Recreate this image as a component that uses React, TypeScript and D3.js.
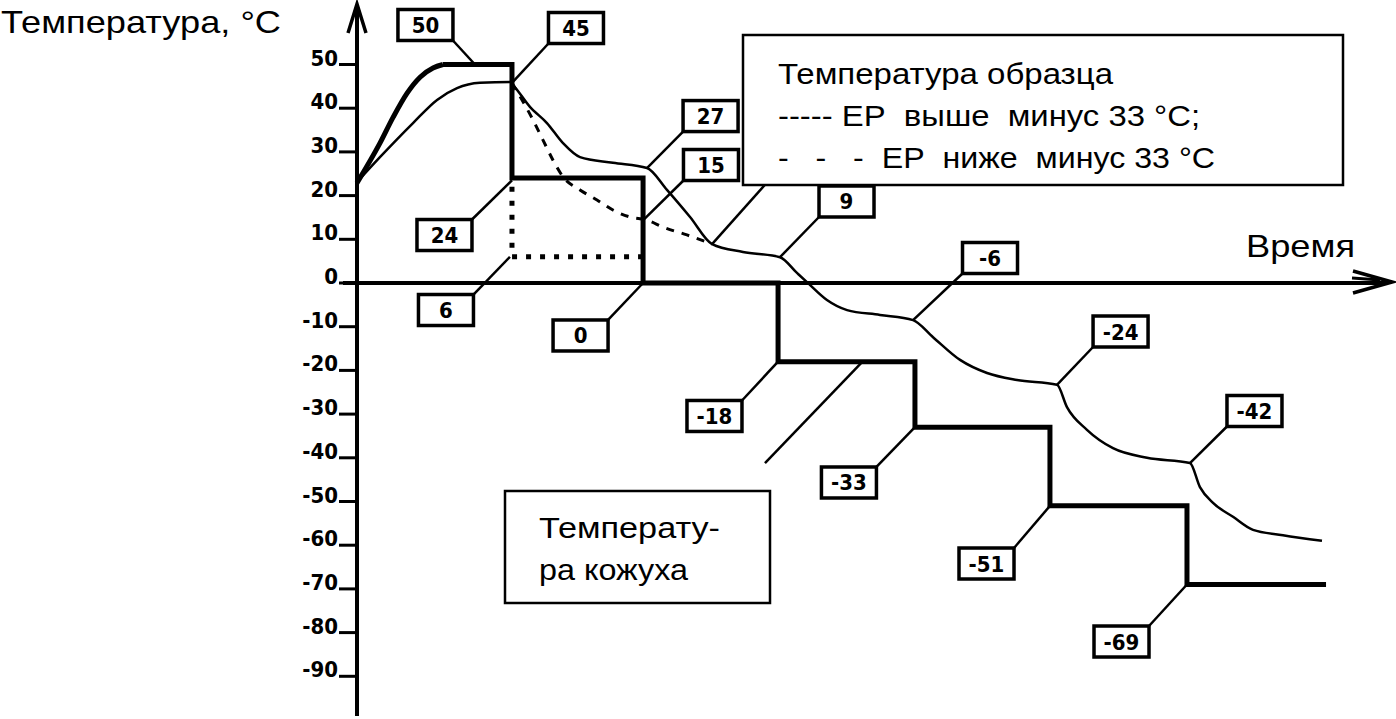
import React from 'react';
import * as d3 from 'd3';

// ---- axis ticks ----
const yTicks = [50, 40, 30, 20, 10, 0, -10, -20, -30, -40, -50, -60, -70, -80, -90];

// ---- jacket temperature (thick line) ----
const jacketRampTime = [0, 1.7, 2.67, 3.7, 4.67, 5.63, 6.37];
const jacketRampTemp = [22.9, 32.0, 37.9, 43.4, 47.1, 49.2, 50];
const jacketStepTime = [6.37, 11.48, 11.48, 21.19, 21.19, 31.19, 31.19, 41.33, 41.33, 51.33, 51.33, 61.48, 61.48, 71.78];
const jacketStepTemp = [50, 50, 24, 24, 0, 0, -18, -18, -33, -33, -51, -51, -69, -69];

// ---- dotted alternative jacket line ----
const dottedTime = [11.48, 11.48, 21.19];
const dottedTemp = [22, 6, 6];

// ---- sample temperature, EP above -33 (thin line) ----
const sampleAboveTime = [0, 1.7, 4.15, 5.93, 7.41, 9.11, 11.33, 11.56, 12.81, 14.07, 15.26, 16.52, 18.96, 21.48,
  22.96, 24.67, 26.3, 28.59, 31.33, 32.59, 33.33, 34.81, 36.3, 38.74, 41.19, 42.67, 44.67, 46.67, 48.89, 51.85,
  52.59, 54.07, 56.0, 58.52, 61.7, 62.44, 63.41, 64.89, 66.37, 68.59, 71.48];
const sampleAboveTemp = [23.1, 28.8, 36.6, 41.9, 44.6, 45.8, 46.0, 45.3, 40.3, 36.6, 32.0, 28.8, 27.5, 26.3,
  21.3, 15.1, 8.9, 7.1, 5.9, 2.3, 0.2, -3.9, -6.2, -7.3, -8.5, -12.4, -17.6, -20.6, -22.2, -23.3,
  -28.4, -33.6, -37.8, -40.0, -41.2, -46.7, -50.3, -53.5, -56.5, -57.7, -59.0];

// ---- sample temperature, EP below -33 (dashed line) ----
const sampleBelowTime = [11.48, 13.04, 13.78, 14.52, 15.26, 16.52, 17.78, 18.96, 20.22, 21.48, 22.67, 24.44, 26.3];
const sampleBelowTemp = [45.8, 37.3, 32.7, 28.1, 24.3, 21.3, 19.0, 16.7, 15.1, 14.4, 12.8, 11.0, 8.9];

// ---- value call-outs ----
const annLabels = ['50', '45', '27', '15', '9', '24', '6', '0', '-18', '-33', '-6', '-24', '-42', '-51', '-69'];
const annAnchorT = [8.74, 11.48, 21.48, 21.2, 31.33, 11.48, 11.33, 21.19, 31.19, 41.33, 41.19, 51.85, 61.7, 51.33, 61.48];
const annAnchorV = [50, 45.8, 26.3, 14.4, 5.9, 23.5, 6, 0, -18, -33, -8.5, -23.3, -41.2, -51, -69];
const annBoxT = [5.07, 16.22, 26.19, 26.22, 36.26, 6.48, 6.59, 16.56, 26.48, 36.44, 46.89, 56.56, 66.48, 46.63, 56.63];
const annBoxV = [59.04, 58.35, 38.2, 27.0, 18.65, 10.98, -6.18, -12.01, -30.43, -45.65, 5.72, -11.1, -29.29, -64.19, -82.04];

// ---- leader lines without visible boxes ----
const extraLeaderT1 = [30.6, 30.22];
const extraLeaderV1 = [23.8, -41.2];
const extraLeaderT2 = [26.3, 37.41];
const extraLeaderV2 = [8.9, -18.1];

const W = 1396;
const H = 719;
const BOX_W = 55;
const BOX_H = 31;
const SANS = "'Liberation Sans', Arial, sans-serif";
const NUM = "'DejaVu Sans Condensed', 'DejaVu Sans', sans-serif";

export default function App() {
  const x = d3.scaleLinear().domain([0, 76.5]).range([357, 1389.75]);
  const y = d3.scaleLinear().domain([-90, 50]).range([283 + 90 * 4.37, 283 - 50 * 4.37]);

  const zip = (ts: number[], vs: number[]) => ts.map((t, i) => [t, vs[i]] as [number, number]);
  const lineLin = d3.line<[number, number]>().x(d => x(d[0])).y(d => y(d[1]));
  const lineSmooth = d3.line<[number, number]>().x(d => x(d[0])).y(d => y(d[1])).curve(d3.curveMonotoneX);

  const x0 = x(0);
  const yZero = y(0);

  return (
    <svg width={W} height={H} style={{ position: 'absolute', left: 0, top: 0, background: '#fff' }}>
      <rect x={0} y={0} width={W} height={H} fill="#fff" />

      {/* titles */}
      <text x={1} y={33} fontFamily={SANS} fontSize={32} fill="#000" textLength={280}
        lengthAdjust="spacingAndGlyphs">Температура, °C</text>
      <text x={1246} y={257} fontFamily={SANS} fontSize={32} fill="#000" textLength={109}
        lengthAdjust="spacingAndGlyphs">Время</text>

      {/* y axis */}
      <line x1={x0} y1={6} x2={x0} y2={716} stroke="#000" strokeWidth={4} />
      <path d={`M${x0 - 9},${33} L${x0},${4} L${x0 + 9},${33}`} fill="none" stroke="#000" strokeWidth={3.5} />
      {yTicks.map(v => (
        <g key={v}>
          <line x1={x0 - 18} y1={y(v)} x2={x0} y2={y(v)} stroke="#000" strokeWidth={3} />
          <text x={x0 - 19} y={y(v) + 1} textAnchor="end" fontFamily={NUM} fontWeight="bold"
            fontSize={22} style={{ fontStretch: 'condensed' }} fill="#000">{v}</text>
        </g>
      ))}

      {/* x axis */}
      <line x1={x0 - 14} y1={yZero} x2={1388} y2={yZero} stroke="#000" strokeWidth={4} />
      <path d={`M1353,${yZero - 12} L1392,${yZero - 1} L1353,${yZero + 10}`} fill="none" stroke="#000" strokeWidth={3.5} />
      <line x1={1352} y1={yZero - 5} x2={1380} y2={yZero - 3} stroke="#000" strokeWidth={3} />

      {/* dotted line */}
      <path d={lineLin(zip(dottedTime, dottedTemp)) || ''} fill="none" stroke="#000" strokeWidth={5}
        strokeDasharray="5 9" />

      {/* jacket temperature */}
      <path d={lineSmooth(zip(jacketRampTime, jacketRampTemp)) || ''} fill="none" stroke="#000" strokeWidth={5} />
      <path d={lineLin(zip(jacketStepTime, jacketStepTemp)) || ''} fill="none" stroke="#000" strokeWidth={5}
        strokeLinejoin="miter" />

      {/* sample temperatures */}
      <path d={lineSmooth(zip(sampleAboveTime, sampleAboveTemp)) || ''} fill="none" stroke="#000" strokeWidth={2.5} />
      <path d={lineSmooth(zip(sampleBelowTime, sampleBelowTemp)) || ''} fill="none" stroke="#000" strokeWidth={3}
        strokeDasharray="8 8" />

      {/* extra leaders */}
      {extraLeaderT1.map((t, i) => (
        <line key={'el' + i} x1={x(t)} y1={y(extraLeaderV1[i])} x2={x(extraLeaderT2[i])} y2={y(extraLeaderV2[i])}
          stroke="#000" strokeWidth={2.5} />
      ))}

      {/* call-outs */}
      {annLabels.map((lab, i) => {
        const cx = x(annBoxT[i]);
        const cy = y(annBoxV[i]);
        const ax = x(annAnchorT[i]);
        const ay = y(annAnchorV[i]);
        const bx = ax < cx ? cx - BOX_W / 2 : cx + BOX_W / 2;
        const by = ay < cy ? cy - BOX_H / 2 : cy + BOX_H / 2;
        return (
          <g key={'a' + i}>
            <line x1={bx} y1={by} x2={ax} y2={ay} stroke="#000" strokeWidth={2.5} />
            <rect x={cx - BOX_W / 2} y={cy - BOX_H / 2} width={BOX_W} height={BOX_H} fill="#fff"
              stroke="#000" strokeWidth={3.5} />
            <text x={cx} y={cy + 8} textAnchor="middle" fontFamily={NUM} fontWeight="bold" fontSize={22}
              style={{ fontStretch: 'condensed' }} fill="#000">{lab}</text>
          </g>
        );
      })}

      {/* legend box */}
      <rect x={743} y={35} width={600} height={150} fill="#fff" stroke="#000" strokeWidth={2.5} />
      <text x={778} y={84} fontFamily={SANS} fontSize={30} fill="#000" textLength={335}
        lengthAdjust="spacingAndGlyphs">Температура образца</text>
      <text x={778} y={126} fontFamily={SANS} fontSize={30} fill="#000" textLength={422}
        lengthAdjust="spacingAndGlyphs" style={{ whiteSpace: 'pre' }}>{'----- ЕР  выше  минус 33 °С;'}</text>
      <text x={778} y={168} fontFamily={SANS} fontSize={30} fill="#000" textLength={437}
        lengthAdjust="spacingAndGlyphs" style={{ whiteSpace: 'pre' }}>{'-   -   -  ЕР  ниже  минус 33 °С'}</text>

      {/* jacket label box */}
      <rect x={505} y={491} width={265} height={112} fill="#fff" stroke="#000" strokeWidth={2.5} />
      <text x={539} y={538} fontFamily={SANS} fontSize={30} fill="#000" textLength={181}
        lengthAdjust="spacingAndGlyphs">Температу-</text>
      <text x={539} y={580} fontFamily={SANS} fontSize={30} fill="#000" textLength={149}
        lengthAdjust="spacingAndGlyphs">ра кожуха</text>
    </svg>
  );
}
